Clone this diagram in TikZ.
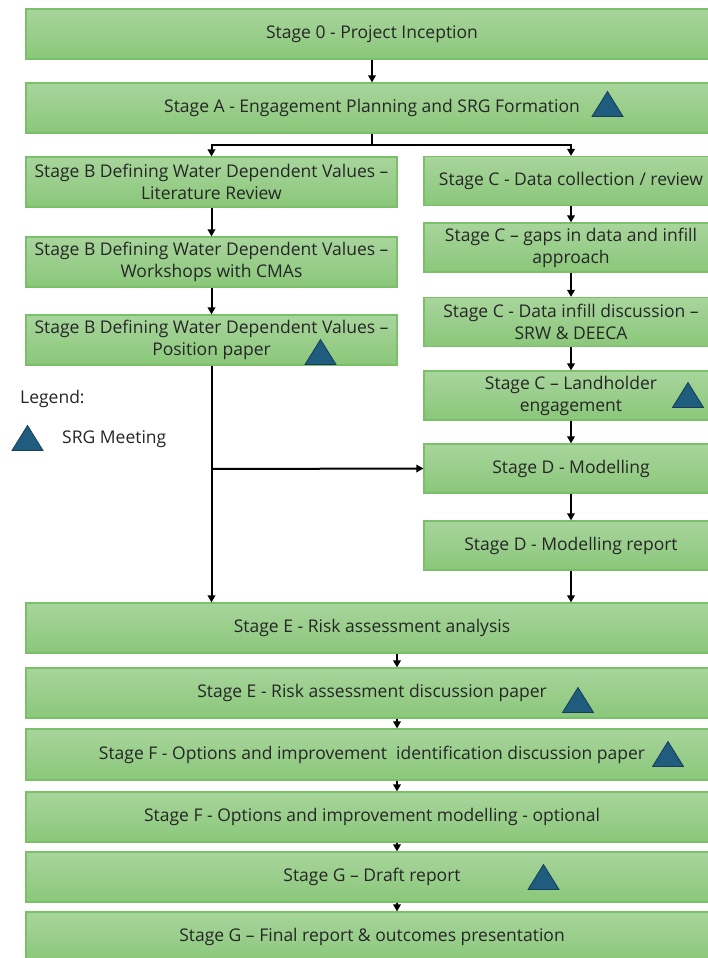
\documentclass[tikz,border=0pt]{standalone}
\usepackage{fontspec}
\setmainfont{Open Sans}
\usetikzlibrary{arrows.meta}

\definecolor{boxtop}{RGB}{168,213,156}
\definecolor{boxbot}{RGB}{138,199,122}
\definecolor{boxline}{RGB}{122,192,104}
\definecolor{srgfill}{RGB}{31,92,125}
\definecolor{srgline}{RGB}{22,62,88}
\definecolor{ink}{RGB}{38,38,38}

\begin{document}
\begin{tikzpicture}[x=1pt,y=-1pt,
  stagebox/.style={draw=boxline, line width=1.2pt, top color=boxtop,
    bottom color=boxbot, minimum height=50pt, inner sep=0pt, text=ink,
    font=\fontsize{17.5}{22}\selectfont, align=center},
  fullbox/.style={stagebox, minimum width=692pt},
  leftbox/.style={stagebox, minimum width=371pt},
  rightbox/.style={stagebox, minimum width=294pt, minimum height=49pt},
  conn/.style={line width=2pt, draw=black, -{Triangle[length=7pt,width=7.5pt]}},
  plain/.style={line width=2pt, draw=black},
  legendtext/.style={text=ink, font=\fontsize{17.5}{20}\selectfont, inner sep=0pt, anchor=west},
  srg/.pic={\filldraw[fill=srgfill, draw=srgline, line width=0.8pt]
    (-15.5,12.5) -- (15.5,12.5) -- (0,-12.5) -- cycle;}
]
\useasboundingbox (0,0) rectangle (708,958);

% main stages
\node[fullbox] (s0) at (372,34) {Stage 0 - Project Inception};
\node[fullbox] (sA) at (372,108) {Stage A - Engagement Planning and SRG Formation};

% stage B column
\node[leftbox] (b1) at (211.5,182) {Stage B Defining Water Dependent Values --\\Literature Review};
\node[leftbox] (b2) at (211.5,262) {Stage B Defining Water Dependent Values --\\Workshops with CMAs};
\node[leftbox] (b3) at (211.5,340) {Stage B Defining Water Dependent Values --\\Position paper};

% stage C / D column
\node[rightbox] (c1) at (571,181) {Stage C - Data collection / review};
\node[rightbox] (c2) at (571,247.5) {Stage C -- gaps in data and infill\\approach};
\node[rightbox] (c3) at (571,322) {Stage C - Data infill discussion --\\SRW \& DEECA};
\node[rightbox] (c4) at (571,395.5) {Stage C -- Landholder\\engagement};
\node[rightbox] (d1) at (571,468.5) {Stage D - Modelling};
\node[rightbox] (d2) at (571,545.5) {Stage D - Modelling report};

% lower stages
\node[fullbox] (e1) at (372,628) {Stage E - Risk assessment analysis};
\node[fullbox] (e2) at (372,693) {Stage E - Risk assessment discussion paper};
\node[fullbox, minimum height=51pt] (f1) at (372,754.5) {Stage F - Options and improvement \ identification discussion paper};
\node[fullbox] (f2) at (372,817) {Stage F - Options and improvement modelling - optional};
\node[fullbox] (g1) at (372,877) {Stage G -- Draft report};
\node[fullbox] (g2) at (372,937) {Stage G -- Final report \& outcomes presentation};

% SRG meeting markers
\pic at (607.5,104) {srg};
\pic at (320.5,352) {srg};
\pic at (688,395) {srg};
\pic at (578,700) {srg};
\pic at (668,754) {srg};
\pic at (543.5,877) {srg};

% legend
\node[legendtext] (leg) at (20,399) {Legend:};
\pic at (27.5,438) {srg};
\node[legendtext] (legsrg) at (62,439) {SRG Meeting};

% routing points
\coordinate (split) at (372,145);
\coordinate (join) at (211,469);
\coordinate (mid) at (397,0);

% connectors
\draw[conn] (s0) -- (sA);
\draw[plain] (sA.south) -- (split);
\draw[conn] (split) -| (b1.north);
\draw[conn] (split) -| (c1.north);
\draw[conn] (b1) -- (b2);
\draw[conn] (b2) -- (b3);
\draw[conn] (b3.south) -- (e1.north -| b3.south);
\draw[conn] (join) -- (d1.west);
\draw[conn] (c1) -- (c2);
\draw[conn] (c2) -- (c3);
\draw[conn] (c3) -- (c4);
\draw[conn] (c4) -- (d1);
\draw[conn] (d1) -- (d2);
\draw[conn] (d2.south) -- (e1.north -| d2.south);
\draw[conn] (e1.south -| mid) -- (e2.north -| mid);
\draw[conn] (e2.south -| mid) -- (f1.north -| mid);
\draw[conn] (f1.south -| mid) -- (f2.north -| mid);
\draw[conn] (f2.south -| mid) -- (g1.north -| mid);
\draw[conn] (g1.south -| mid) -- (g2.north -| mid);
\end{tikzpicture}
\end{document}
